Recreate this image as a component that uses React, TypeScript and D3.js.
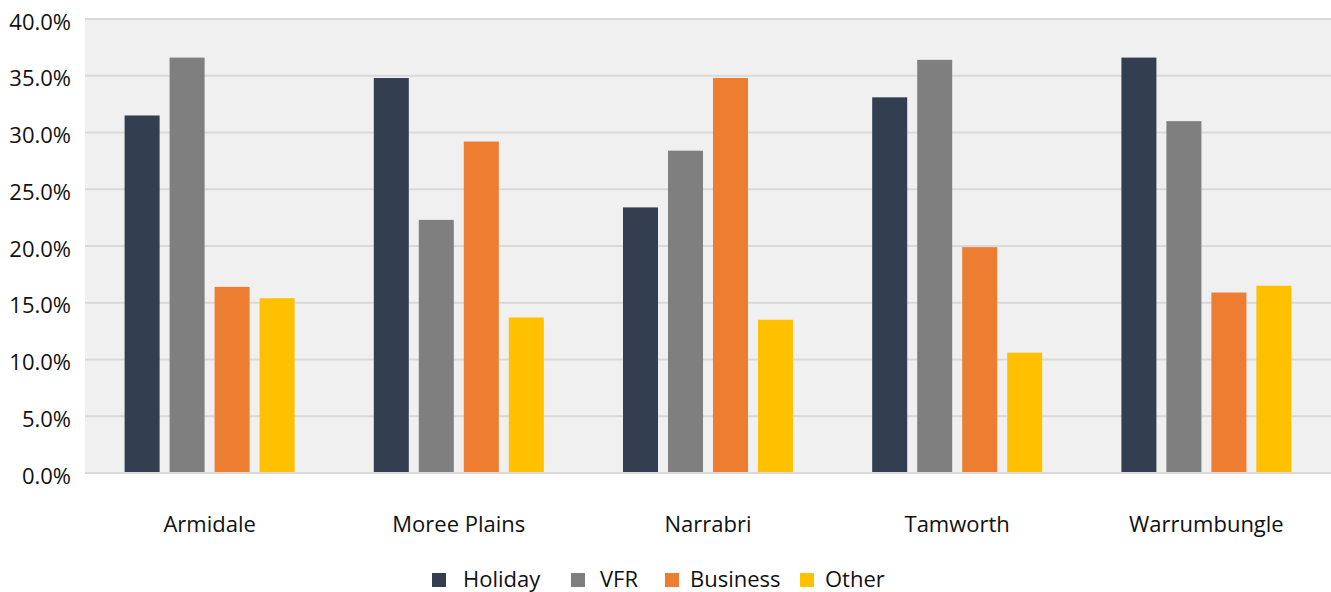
import React from "react";
import * as d3 from "d3";

const categories = ["Armidale", "Moree Plains", "Narrabri", "Tamworth", "Warrumbungle"];
const seriesNames = ["Holiday", "VFR", "Business", "Other"];
const holiday = [31.5, 34.8, 23.4, 33.1, 36.6];
const vfr = [36.6, 22.3, 28.4, 36.4, 31.0];
const business = [16.4, 29.2, 34.8, 19.9, 15.9];
const other = [15.4, 13.7, 13.5, 10.6, 16.5];
const yTicks = [0, 5, 10, 15, 20, 25, 30, 35, 40];
const colors = ["#333f50", "#7f7f7f", "#ed7d31", "#ffc000"];

const W = 1331;
const H = 592;
const margin = { left: 85, right: 0, top: 19, bottom: 119 };
const FONT = "'Open Sans', 'Noto Sans', sans-serif";
const FS = 22;
const TEXT = "#111111";

export default function App() {
  const series = [holiday, vfr, business, other];
  const groupW = 170;
  const x0 = d3.scaleBand<string>().domain(categories).range([margin.left, W - margin.right]).paddingInner(0).paddingOuter(0);
  const x1 = d3.scaleBand<string>().domain(seriesNames).range([0, groupW]).paddingInner(0.222).paddingOuter(0);
  const y = d3.scaleLinear().domain([0, 40]).range([H - margin.bottom, margin.top]);

  const legendSwatchX = [432, 571, 665, 800];
  const legendTextX = [463, 600, 690, 825];

  return (
    <svg width={W} height={H} style={{ position: "absolute", left: 0, top: 0, display: "block" }} fontFamily={FONT}>
      <rect x={margin.left} y={margin.top} width={W - margin.left - margin.right} height={y(0) - y(40)} fill="#f0f0f0" />
      {yTicks.map((t) => (
        <g key={t}>
          <line x1={margin.left} x2={W - margin.right} y1={y(t)} y2={y(t)} stroke="#d9d9d9" strokeWidth={2} />
          <text x={71} y={y(t) + 3} dy="0.35em" textAnchor="end" fontSize={FS} fill={TEXT}>
            {t.toFixed(1) + "%"}
          </text>
        </g>
      ))}
      {categories.map((c, i) => {
        const gx = (x0(c) as number) + (x0.bandwidth() - groupW) / 2;
        return (
          <g key={c}>
            {seriesNames.map((s, j) => (
              <rect
                key={s}
                x={gx + (x1(s) as number)}
                y={y(series[j][i])}
                width={x1.bandwidth()}
                height={y(0) - y(series[j][i]) - 1}
                fill={colors[j]}
              />
            ))}
            <text x={(x0(c) as number) + x0.bandwidth() / 2} y={532} textAnchor="middle" fontSize={FS} fill={TEXT}>
              {c}
            </text>
          </g>
        );
      })}
      {seriesNames.map((s, j) => (
        <g key={s}>
          <rect x={legendSwatchX[j]} y={573} width={14} height={14} fill={colors[j]} />
          <text x={legendTextX[j]} y={587} fontSize={FS} fill={TEXT}>
            {s}
          </text>
        </g>
      ))}
    </svg>
  );
}
